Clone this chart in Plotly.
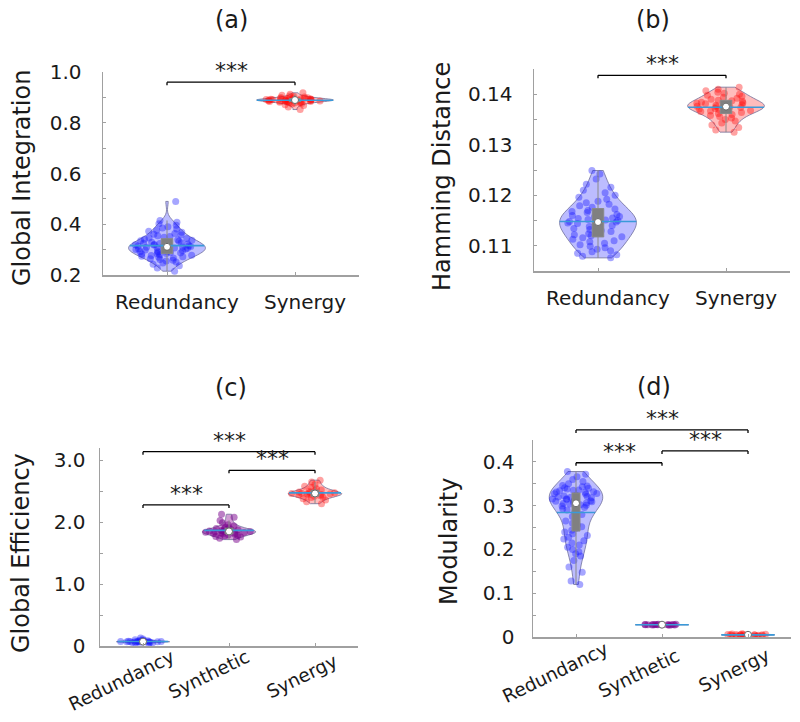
import math
import numpy as np
import plotly.graph_objects as go

W, H = 800, 722

# ---------------- data ----------------
cats2 = ["Redundancy", "Synergy"]
cats3 = ["Redundancy", "Synthetic", "Synergy"]

gi_redundancy = [0.215, 0.228, 0.236, 0.242, 0.247, 0.251, 0.255, 0.258, 0.261, 0.264,
                 0.267, 0.27, 0.272, 0.274, 0.277, 0.278, 0.28, 0.283, 0.284, 0.285,
                 0.287, 0.289, 0.29, 0.292, 0.293, 0.295, 0.296, 0.298, 0.299, 0.3,
                 0.302, 0.303, 0.305, 0.306, 0.307, 0.309, 0.31, 0.311, 0.312, 0.314,
                 0.315, 0.316, 0.318, 0.319, 0.32, 0.322, 0.324, 0.325, 0.327, 0.329,
                 0.331, 0.333, 0.335, 0.337, 0.339, 0.341, 0.344, 0.346, 0.349, 0.352,
                 0.355, 0.358, 0.361, 0.364, 0.368, 0.372, 0.376, 0.381, 0.385, 0.39,
                 0.396, 0.402, 0.408, 0.415, 0.49]
gi_synergy = [0.852, 0.862, 0.868, 0.871, 0.874, 0.876, 0.878, 0.879, 0.88, 0.881,
              0.882, 0.883, 0.884, 0.884, 0.885, 0.886, 0.886, 0.887, 0.887, 0.888,
              0.888, 0.889, 0.889, 0.89, 0.89, 0.89, 0.891, 0.891, 0.892, 0.892,
              0.893, 0.893, 0.894, 0.894, 0.895, 0.896, 0.897, 0.898, 0.899, 0.9,
              0.901, 0.903, 0.905, 0.908, 0.912, 0.918]

hd_redundancy = [0.1076, 0.1079, 0.1082, 0.1085, 0.1088, 0.109, 0.1093, 0.1096, 0.1099, 0.1102,
                 0.1105, 0.1108, 0.111, 0.1113, 0.1116, 0.1118, 0.112, 0.1122, 0.1124, 0.1126,
                 0.1128, 0.113, 0.1132, 0.1134, 0.1136, 0.1138, 0.114, 0.1142, 0.1144, 0.1145,
                 0.1147, 0.1148, 0.115, 0.1151, 0.1152, 0.1154, 0.1155, 0.1157, 0.1158, 0.116,
                 0.1162, 0.1164, 0.1166, 0.1168, 0.117, 0.1173, 0.1176, 0.1179, 0.1182, 0.1185,
                 0.1188, 0.1192, 0.1196, 0.12, 0.1205, 0.121, 0.1216, 0.1222, 0.1232, 0.1242,
                 0.1249]
hd_synergy = [0.1325, 0.1329, 0.1334, 0.1339, 0.1343, 0.1347, 0.135, 0.1353, 0.1356, 0.1358,
              0.136, 0.1362, 0.1364, 0.1366, 0.1367, 0.1368, 0.137, 0.1371, 0.1372, 0.1373,
              0.1374, 0.1375, 0.1375, 0.1376, 0.1377, 0.1378, 0.1379, 0.138, 0.1381, 0.1382,
              0.1383, 0.1384, 0.1386, 0.1387, 0.1388, 0.139, 0.1392, 0.1394, 0.1396, 0.1398,
              0.14, 0.1402, 0.1404, 0.1407, 0.141, 0.1414]

ge_redundancy = [0.035, 0.045, 0.052, 0.056, 0.059, 0.061, 0.063, 0.064, 0.066, 0.067,
                 0.068, 0.069, 0.07, 0.071, 0.072, 0.073, 0.074, 0.076, 0.078, 0.08,
                 0.083, 0.087, 0.092, 0.1, 0.112, 0.128]
ge_synthetic = [1.72, 1.74, 1.76, 1.77, 1.78, 1.79, 1.8, 1.81, 1.815, 1.82,
                1.825, 1.83, 1.835, 1.84, 1.845, 1.85, 1.855, 1.86, 1.865, 1.87,
                1.875, 1.88, 1.89, 1.9, 1.91, 1.92, 1.94, 1.96, 1.99, 2.03,
                2.08, 2.13]
ge_synergy = [2.3, 2.33, 2.36, 2.38, 2.4, 2.41, 2.42, 2.43, 2.44, 2.445,
              2.45, 2.455, 2.46, 2.465, 2.47, 2.475, 2.48, 2.49, 2.5, 2.51,
              2.52, 2.54, 2.56, 2.58, 2.61, 2.65, 2.68]

mod_redundancy = [0.12, 0.128, 0.148, 0.16, 0.175, 0.185, 0.19, 0.195, 0.2, 0.205,
                  0.21, 0.215, 0.22, 0.224, 0.228, 0.232, 0.236, 0.24, 0.244, 0.248,
                  0.252, 0.256, 0.26, 0.265, 0.27, 0.275, 0.28, 0.285, 0.29, 0.293,
                  0.296, 0.299, 0.301, 0.302, 0.304, 0.305, 0.306, 0.308, 0.309, 0.31,
                  0.311, 0.312, 0.314, 0.315, 0.316, 0.318, 0.319, 0.32, 0.321, 0.322,
                  0.324, 0.326, 0.327, 0.328, 0.33, 0.331, 0.332, 0.334, 0.335, 0.336,
                  0.338, 0.34, 0.341, 0.343, 0.345, 0.346, 0.35, 0.355, 0.36, 0.366,
                  0.372, 0.378]
mod_synthetic = [0.0268, 0.0272, 0.0275, 0.0277, 0.0278, 0.0279, 0.028, 0.028, 0.0281, 0.0281,
                 0.0282, 0.0283, 0.0284, 0.0285, 0.0287, 0.029, 0.0293]
mod_synergy = [0.0025, 0.003, 0.0034, 0.0037, 0.004, 0.0042, 0.0044, 0.0046, 0.0048, 0.005,
               0.0051, 0.0052, 0.0054, 0.0056, 0.0058, 0.006, 0.0063, 0.0067, 0.0072]

# tick labels
gi_tickvals = [0.2, 0.4, 0.6, 0.8, 1.0]
gi_ticktext = ["0.2", "0.4", "0.6", "0.8", "1.0"]
hd_tickvals = [0.11, 0.12, 0.13, 0.14]
hd_ticktext = ["0.11", "0.12", "0.13", "0.14"]
ge_tickvals = [0, 1, 2, 3]
ge_ticktext = ["0", "1.0", "2.0", "3.0"]
mod_tickvals = [0, 0.1, 0.2, 0.3, 0.4]
mod_ticktext = ["0", "0.1", "0.2", "0.3", "0.4"]

panel_titles = ["(a)", "(b)", "(c)", "(d)"]
y_titles = ["Global Integration", "Hamming Distance", "Global Efficiency", "Modularity"]
sig_label = "***"

# ---------------- styling ----------------
FONT = "DejaVu Sans"
TXT = "#1a1a1a"
AX = "#a0a0a0"
MEAN = "#3a9ad9"
style = {
    "Redundancy": dict(fill="rgba(80,80,255,0.38)", pt="rgba(20,20,255,0.38)"),
    "Synthetic": dict(fill="rgba(150,40,160,0.45)", pt="rgba(120,0,140,0.5)"),
    "Synergy": dict(fill="rgba(255,80,80,0.38)", pt="rgba(255,10,10,0.38)"),
}
CLEAR = "rgba(0,0,0,0)"


def px_dom(x0, x1, y_top, y_bot):
    return [x0 / W, x1 / W], [1 - y_bot / H, 1 - y_top / H]


def paper_xy(x, y):
    return x / W, 1 - y / H


def violin_halfwidth_at(vals, y, full_width):
    """Half-width of a plotly violin (scalemode='width', spanmode='hard') at value y,
    using plotly's own Silverman bandwidth + gaussian KDE."""
    v = np.sort(np.asarray(vals, float))
    n = len(v)

    def interp(frac):
        f = frac * n - 0.5
        if f < 0:
            return v[0]
        if f > n - 1:
            return v[-1]
        r = f % 1
        return r * v[int(math.ceil(f))] + (1 - r) * v[int(math.floor(f))]

    iqr = interp(0.75) - interp(0.25)
    ssd = np.std(v, ddof=1)
    bw = max(1.059 * min(ssd, iqr / 1.349) * n ** -0.2, (v[-1] - v[0]) / 100)

    def kde(t):
        u = (t - v) / bw
        return np.exp(-0.5 * u * u).sum() / (n * bw * math.sqrt(2 * math.pi))

    lo, hi = v[0], v[-1]
    steps = int(math.ceil((hi - lo) / (bw / 3)))
    grid = np.linspace(lo, hi, steps + 1)
    kmax = max(kde(t) for t in grid)
    return full_width / 2 * kde(y) / kmax


panels = [
    dict(ax="", cats=cats2, data=[gi_redundancy, gi_synergy], dom=px_dom(103, 359, 72, 275),
         yr=[0.2, 1.0], tv=gi_tickvals, tt=gi_ticktext, minor=0.1, vw=0.6, rot=None,
         ystand=16, brackets=[(0, 1, 0.96)], title_xy=(231, 20), ytitle_xy=(22, 178)),
    dict(ax="2", cats=cats2, data=[hd_redundancy, hd_synergy], dom=px_dom(534, 790, 69, 271),
         yr=[0.105, 0.145], tv=hd_tickvals, tt=hd_ticktext, minor=0.005, vw=0.6, rot=None,
         ystand=16, brackets=[(0, 1, 0.14375)], title_xy=(653, 20), ytitle_xy=(442, 177)),
    dict(ax="3", cats=cats3, data=[ge_redundancy, ge_synthetic, ge_synergy], dom=px_dom(100, 358, 448, 646),
         yr=[0, 3.2], tv=ge_tickvals, tt=ge_ticktext, minor=0.5, vw=0.62,
         rot=[(-22, 34), (-20.5, 28), (-13.5, 30.5)],
         ystand=9, brackets=[(0, 2, 3.14), (1, 2, 2.84), (0, 1, 2.28)],
         title_xy=(231, 388), ytitle_xy=(21, 553)),
    dict(ax="4", cats=cats3, data=[mod_redundancy, mod_synthetic, mod_synergy], dom=px_dom(533, 791, 440, 637),
         yr=[0, 0.45], tv=mod_tickvals, tt=mod_ticktext, minor=0.05, vw=0.62,
         rot=[(-21, 35.5), (-23.5, 36), (-14.5, 33)],
         ystand=13, brackets=[(0, 2, 0.473), (1, 2, 0.425), (0, 1, 0.398)],
         title_xy=(654, 387), ytitle_xy=(449, 542)),
]

fig = go.Figure()
shapes = []
annotations = []
layout_axes = {}

for k, p in enumerate(panels):
    xa, ya = "x" + p["ax"], "y" + p["ax"]
    n = len(p["cats"])
    positions = list(range(n))
    for pos, cat, vals in zip(positions, p["cats"], p["data"]):
        st = style[cat]
        common = dict(x=[pos] * len(vals), y=vals, xaxis=xa, yaxis=ya, name=cat,
                      width=p["vw"], spanmode="hard", showlegend=False, hoverinfo="skip")
        # body + points
        fig.add_trace(go.Violin(
            **common, fillcolor=st["fill"],
            line=dict(color="rgba(105,105,150,0.75)", width=1),
            meanline=dict(visible=False), box=dict(visible=False),
            points="all", pointpos=0, jitter=0.9,
            marker=dict(color=st["pt"], size=7, line=dict(width=0))))
        # solid mean line spanning the violin
        mean = float(np.mean(vals))
        hw = violin_halfwidth_at(vals, mean, p["vw"])
        fig.add_trace(go.Scatter(
            x=[pos - hw, pos + hw], y=[mean, mean], xaxis=xa, yaxis=ya, mode="lines",
            line=dict(color=MEAN, width=1.6), showlegend=False, hoverinfo="skip"))
        # inner box + whiskers
        fig.add_trace(go.Violin(
            **common, fillcolor=CLEAR, line=dict(color=CLEAR, width=0), points=False,
            meanline=dict(visible=False),
            box=dict(visible=True, width=0.15, fillcolor="#808080",
                     line=dict(color="#8a8a8a", width=1))))
        # median marker
        fig.add_trace(go.Scatter(
            x=[pos], y=[float(np.median(vals))], xaxis=xa, yaxis=ya, mode="markers",
            marker=dict(color="white", size=7, line=dict(color="#6a6a6a", width=1)),
            showlegend=False, hoverinfo="skip", cliponaxis=False))

    xdom, ydom = p["dom"]
    key = p["ax"]
    layout_axes["xaxis" + key] = dict(
        domain=xdom, anchor=ya, range=[-0.5, n - 0.5], tickvals=positions, ticktext=p["cats"],
        showticklabels=p["rot"] is None, ticklabelshift=10, ticklabelstandoff=8,
        showline=True, linecolor=AX, linewidth=1.5, automargin=False,
        ticks="inside", ticklen=3, tickcolor=AX, tickwidth=1, showgrid=False, zeroline=False,
        tickfont=dict(size=20, color=TXT, family=FONT), fixedrange=True)
    layout_axes["yaxis" + key] = dict(
        domain=ydom, anchor=xa, range=p["yr"], tickvals=p["tv"], ticktext=p["tt"],
        showline=True, linecolor=AX, linewidth=1.5, ticks="inside", ticklen=3, automargin=False,
        tickcolor=AX, tickwidth=1, showgrid=False, zeroline=False,
        minor=dict(dtick=p["minor"], tick0=p["yr"][0], ticks="inside", ticklen=3,
                   tickcolor=AX, showgrid=False),
        ticklabelstandoff=p["ystand"],
        tickfont=dict(size=20, color=TXT, family=FONT), fixedrange=True)

    # rotated category labels
    if p["rot"] is not None:
        for pos, cat, (dx, dy) in zip(positions, p["cats"], p["rot"]):
            annotations.append(dict(text=cat, xref=xa, yref=ya + " domain", x=pos, y=0,
                                    xanchor="center", yanchor="middle", xshift=dx, yshift=-dy,
                                    textangle=-26, showarrow=False,
                                    font=dict(size=18.5, color=TXT, family=FONT)))

    # significance brackets
    plot_h = (ydom[1] - ydom[0]) * H
    tick_frac = 3.0 / plot_h
    y0, y1 = p["yr"]
    for i, j, yv in p["brackets"]:
        fx0, fx1 = (i + 0.5) / n, (j + 0.5) / n
        fy = (yv - y0) / (y1 - y0)
        seg = dict(type="line", xref=xa + " domain", yref=ya + " domain",
                   line=dict(color="black", width=1.3))
        shapes.append(dict(seg, x0=fx0, x1=fx1, y0=fy, y1=fy))
        shapes.append(dict(seg, x0=fx0, x1=fx0, y0=fy, y1=fy - tick_frac))
        shapes.append(dict(seg, x0=fx1, x1=fx1, y0=fy, y1=fy - tick_frac))
        annotations.append(dict(text=sig_label, xref=xa + " domain", yref=ya + " domain",
                                x=(fx0 + fx1) / 2, y=fy, xanchor="center", yanchor="bottom",
                                yshift=-3, showarrow=False,
                                font=dict(size=22, color=TXT, family=FONT)))

    tx, ty = paper_xy(*p["title_xy"])
    annotations.append(dict(text=panel_titles[k], xref="paper", yref="paper",
                            x=tx, y=ty, xanchor="center", yanchor="middle",
                            showarrow=False, font=dict(size=24, color=TXT, family=FONT)))
    yx, yy = paper_xy(*p["ytitle_xy"])
    annotations.append(dict(text=y_titles[k], xref="paper", yref="paper",
                            x=yx, y=yy, xanchor="center", yanchor="middle",
                            textangle=-90, showarrow=False,
                            font=dict(size=24, color=TXT, family=FONT)))

fig.update_layout(
    template="none",
    width=W, height=H, margin=dict(l=0, r=0, t=0, b=0, autoexpand=False),
    paper_bgcolor="white", plot_bgcolor="white",
    font=dict(family=FONT, color=TXT), violinmode="overlay",
    shapes=shapes, annotations=annotations, showlegend=False,
    **layout_axes)

# remove the browser's default 8px page margin so the 800x722 figure fills the window
fig.write_html("out.html", config={"displayModeBar": False, "staticPlot": True},
               post_script="document.body.style.margin='0';document.body.style.overflow='hidden';")
